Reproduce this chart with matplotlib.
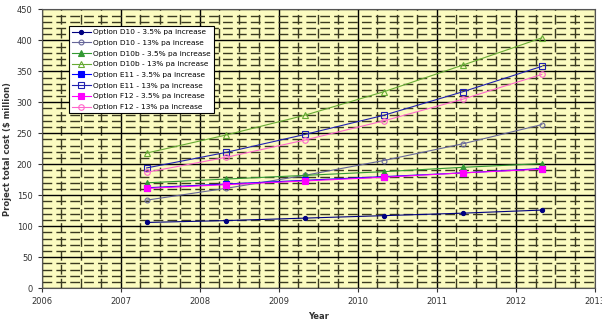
import numpy as np
import matplotlib.pyplot as plt
from matplotlib.ticker import MultipleLocator, FormatStrFormatter

# data
years = [2007.33, 2008.33, 2009.33, 2010.33, 2011.33, 2012.33]
d10_35 = [106, 109, 113, 117, 121, 126]
d10_13 = [142, 161, 182, 206, 233, 264]
d10b_35 = [170, 176, 182, 188, 195, 201]
d10b_13 = [218, 247, 279, 317, 360, 404]
e11_35 = [162, 168, 174, 180, 186, 193]
e11_13 = [194, 219, 248, 279, 317, 358]
f12_35 = [161, 167, 173, 179, 186, 192]
f12_13 = [187, 211, 239, 270, 305, 345]

labels = ["Option D10 - 3.5% pa increase", "Option D10 - 13% pa increase",
          "Option D10b - 3.5% pa increase", "Option D10b - 13% pa increase",
          "Option E11 - 3.5% pa increase", "Option E11 - 13% pa increase",
          "Option F12 - 3.5% pa increase", "Option F12 - 13% pa increase"]
series = [d10_35, d10_13, d10b_35, d10b_13, e11_35, e11_13, f12_35, f12_13]

styles = [
    dict(color='#000080', marker='o', mfc='#000080', ms=3),
    dict(color='#666699', marker='o', mfc='none', ms=3.5),
    dict(color='#339933', marker='^', mfc='#339933', ms=4),
    dict(color='#66aa33', marker='^', mfc='none', ms=4),
    dict(color='#0000ff', marker='s', mfc='#0000ff', ms=4),
    dict(color='#2020b0', marker='s', mfc='none', ms=4.5),
    dict(color='#ff00ff', marker='s', mfc='#ff00ff', ms=4.5),
    dict(color='#ff66cc', marker='o', mfc='none', ms=4),
]

fig = plt.figure(figsize=(6.02, 3.23), dpi=100)
ax = fig.add_axes([0.069, 0.108, 0.919, 0.863])
ax.set_facecolor('#fbfbc0')

for vals, lab, st in zip(series, labels, styles):
    ax.plot(years, vals, label=lab, lw=0.8, mew=0.8, mec=st['color'], **st)

ax.set_xlim(2006, 2013)
ax.set_ylim(0, 450)
ax.xaxis.set_major_locator(MultipleLocator(1))
ax.xaxis.set_major_formatter(FormatStrFormatter('%d'))
ax.xaxis.set_minor_locator(MultipleLocator(0.25))
ax.yaxis.set_major_locator(MultipleLocator(50))
ax.yaxis.set_minor_locator(MultipleLocator(10))
ax.grid(which='major', color='black', lw=1.0, ls='-')
ax.grid(which='minor', color='#3a3a20', lw=1.0, ls=(0, (7, 3)))
ax.set_axisbelow(True)

ax.tick_params(labelsize=6, colors='#333333', length=3)
ax.tick_params(which='minor', length=0)
for s in ax.spines.values():
    s.set_color('#555555')

ax.set_xlabel("Year", fontsize=6, fontweight='bold', color='#333333', labelpad=4)
ax.set_ylabel("Project total cost ($ million)", fontsize=6, fontweight='bold',
              color='#333333', labelpad=3)

leg = ax.legend(loc='upper left', bbox_to_anchor=(0.05, 0.94), fontsize=5.3,
                frameon=True, fancybox=False, borderpad=0.4, labelspacing=0.62,
                handlelength=2.5, handletextpad=0.4, borderaxespad=0)
leg.get_frame().set_edgecolor('black')
leg.get_frame().set_linewidth(0.8)
leg.get_frame().set_facecolor('white')
leg.get_frame().set_alpha(1)

fig.savefig('out.png', dpi=100)
